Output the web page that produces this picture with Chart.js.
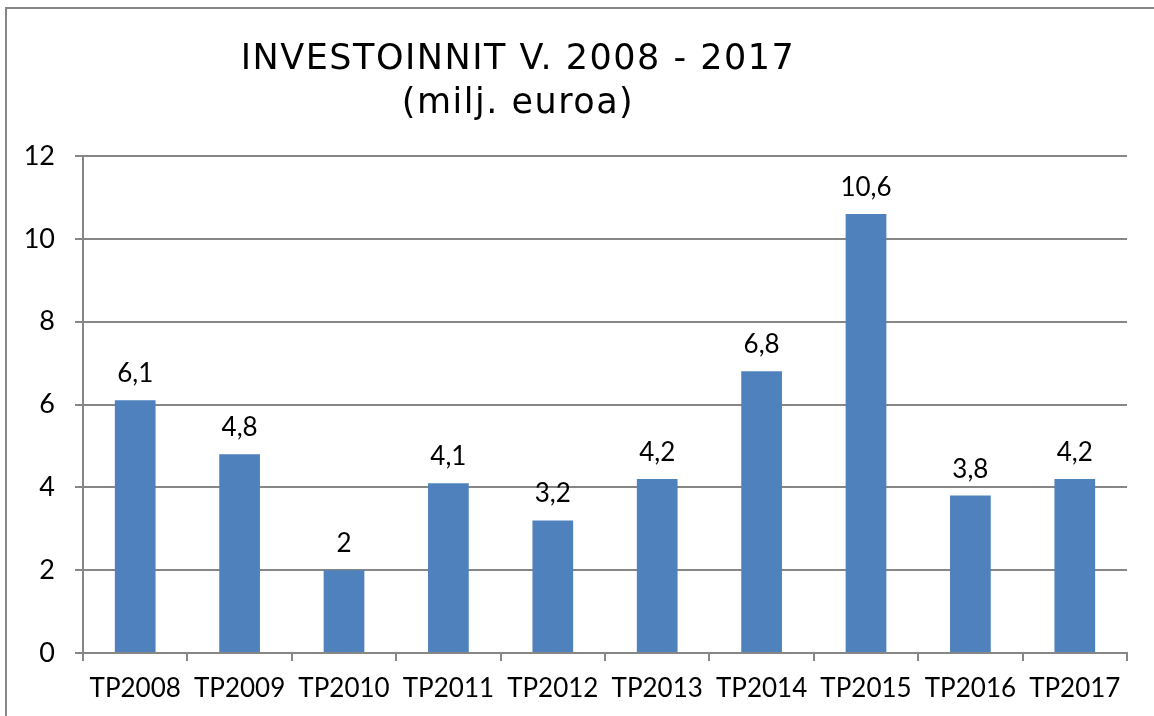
<!DOCTYPE html>
<html>
<head>
<meta charset="utf-8">
<script src="https://cdn.jsdelivr.net/npm/chart.js@4"></script>
<style>
  html, body { margin: 0; padding: 0; background: #fff; }
  #wrap { width: 1154px; height: 716px; }
</style>
</head>
<body>
<div id="wrap"><canvas id="investChart" width="1154" height="716"></canvas></div>
<script>
const categories = ["TP2008", "TP2009", "TP2010", "TP2011", "TP2012", "TP2013", "TP2014", "TP2015", "TP2016", "TP2017"];
const investments = [6.1, 4.8, 2, 4.1, 3.2, 4.2, 6.8, 10.6, 3.8, 4.2];
const titleLines = ["INVESTOINNIT V. 2008 - 2017", "(milj. euroa)"];

const labelFont = "Lato, 'Noto Sans', sans-serif";
const gray = "#868686";

// frame, title and value labels
const extras = {
  id: "extras",
  beforeDraw(chart) {
    const ctx = chart.ctx;
    ctx.save();
    ctx.strokeStyle = gray;
    ctx.lineWidth = 2;
    ctx.strokeRect(6, 8, 1170, 730);
    ctx.restore();
  },
  afterDatasetsDraw(chart) {
    const ctx = chart.ctx;
    ctx.save();
    ctx.fillStyle = "#000";
    ctx.textAlign = "center";
    ctx.textBaseline = "alphabetic";
    ctx.font = "35px 'DejaVu Sans', Verdana, sans-serif";
    ctx.letterSpacing = "1.5px";
    ctx.fillText(titleLines[0], 518, 69);
    ctx.fillText(titleLines[1], 518, 113);

    ctx.letterSpacing = "0px";
    ctx.font = "26px " + labelFont;
    chart.getDatasetMeta(0).data.forEach((bar, i) => {
      const txt = String(investments[i]).replace(".", ",");
      ctx.fillText(txt, bar.x, bar.y - 18);
    });
    ctx.restore();
  }
};

new Chart(document.getElementById("investChart").getContext("2d"), {
  type: "bar",
  data: {
    labels: categories,
    datasets: [{
      label: "Investoinnit",
      data: investments,
      backgroundColor: "#4F81BD",
      barPercentage: 0.39,
      categoryPercentage: 1.0
    }]
  },
  options: {
    responsive: false,
    animation: false,
    layout: { padding: { top: 156, right: 27, left: 0, bottom: 0 } },
    plugins: {
      legend: { display: false },
      title: { display: false },
      tooltip: { enabled: false }
    },
    scales: {
      y: {
        min: 0,
        max: 12,
        afterFit(scale) { scale.width = 83; },
        ticks: {
          stepSize: 2,
          color: "#000",
          padding: 20,
          font: { family: labelFont, size: 27 }
        },
        grid: { color: gray, lineWidth: 2, tickLength: 8, drawTicks: true },
        border: { color: gray, width: 2 }
      },
      x: {
        afterFit(scale) { scale.height = 63; },
        ticks: {
          color: "#000",
          padding: 12,
          maxRotation: 0,
          font: { family: labelFont, size: 26 }
        },
        grid: { offset: true, drawOnChartArea: false, drawTicks: true, tickLength: 8, color: gray, lineWidth: 2 },
        border: { color: gray, width: 2 }
      }
    }
  },
  plugins: [extras]
});
</script>
</body>
</html>
